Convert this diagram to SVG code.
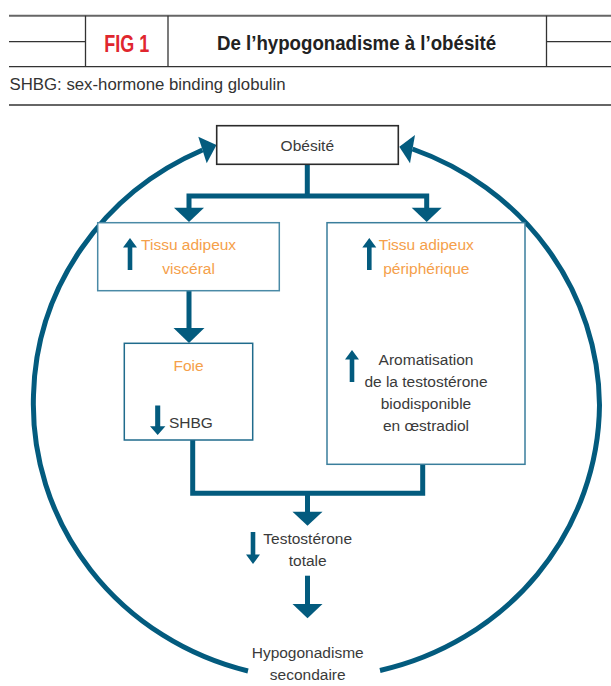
<svg xmlns="http://www.w3.org/2000/svg" xmlns:xlink="http://www.w3.org/1999/xlink" width="611" height="686" viewBox="0 0 611 686">
<style>
.hl{stroke:#333;stroke-width:1.3;fill:none}
.txt{font-family:"Liberation Sans",Arial,sans-serif;font-size:15.5px;fill:#3a3a3a}
.or{fill:#f5a04a}
.mid{text-anchor:middle}
.conn{stroke:#035b7e;stroke-width:5;fill:none;stroke-linejoin:miter}
.head{fill:#035b7e}
.box{fill:#fff;stroke-width:1.5}
</style>
<defs>
<path id="up" d="M0 0 L7 9.5 L2.3 9.5 L2.3 32 L-2.3 32 L-2.3 9.5 L-7 9.5 Z" fill="#035b7e"/>
</defs>
<g id="header">
<line x1="9" y1="15.7" x2="611" y2="15.7" stroke="#666" stroke-width="2"/>
<line class="hl" x1="9" y1="66.7" x2="611" y2="66.7"/>
<line class="hl" x1="9" y1="41.7" x2="85.5" y2="41.7"/>
<line class="hl" x1="546.5" y1="41.7" x2="611" y2="41.7"/>
<line class="hl" x1="85.5" y1="15.7" x2="85.5" y2="66.7"/>
<line class="hl" x1="168" y1="15.7" x2="168" y2="66.7"/>
<line class="hl" x1="546.5" y1="15.7" x2="546.5" y2="66.7"/>
<text transform="translate(126.7,52.3) scale(0.75,1)" text-anchor="middle" font-family="Liberation Sans,Arial,sans-serif" font-weight="bold" font-size="24" fill="#e0262e">FIG 1</text>
<text transform="translate(356.5,50) scale(0.89,1)" text-anchor="middle" font-family="Liberation Sans,Arial,sans-serif" font-weight="bold" font-size="21" fill="#222">De l’hypogonadisme à l’obésité</text>
<text x="9.5" y="90" font-family="Liberation Sans,Arial,sans-serif" font-size="16.8" fill="#333">SHBG: sex-hormone binding globulin</text>
<line class="hl" x1="9" y1="105" x2="611" y2="105"/>
</g>
<g id="connectors">
<path class="conn" d="M248 671 A284 275 0 0 1 33.5 395 A284 275 0 0 1 202.5 150"/>
<polygon class="head" points="216.5,145 198.3,136.7 206.7,163.3"/>
<path class="conn" d="M380 670.5 A284 275 0 0 0 599.5 405 A284 275 0 0 0 412.5 149"/>
<polygon class="head" points="399.3,146.7 415,135 410,163.3"/>
<path class="conn" d="M307.3 164 V196"/>
<path class="conn" d="M189 209 V196 H426.7 V209"/>
<polygon class="head" points="174,207.7 204,207.7 189,222"/>
<polygon class="head" points="411.7,207.7 441.7,207.7 426.7,222"/>
<path class="conn" d="M189 291 V329"/>
<polygon class="head" points="173.5,328 204.5,328 189,343"/>
<path class="conn" d="M192.7 440 V493.3 H422.7 V464"/>
<path class="conn" d="M307.5 493.3 V513"/>
<polygon class="head" points="292.5,511.7 322.5,511.7 307.5,525.7"/>
<path class="conn" d="M307.5 575.7 V605"/>
<polygon class="head" points="292.5,604 322.5,604 307.5,618.3"/>
</g>
<g id="obesite">
<rect x="216.7" y="125.7" width="181.6" height="38.6" fill="#fff" stroke="#2b2b2b" stroke-width="1.6"/>
<text class="txt mid" x="307.3" y="151">Obésité</text>
</g>
<g id="tissu-visceral">
<rect class="box" x="97.7" y="222.7" width="181.6" height="68" stroke="#4a8aa6"/>
<use xlink:href="#up" href="#up" x="130" y="238"/>
<text class="txt or mid" x="188.6" y="249.5">Tissu adipeux</text>
<text class="txt or mid" x="188.6" y="273.5">viscéral</text>
</g>
<g id="foie">
<rect class="box" x="124.3" y="343.3" width="128.4" height="96.7" stroke="#1f6b8c"/>
<text class="txt or mid" x="188.5" y="370.5">Foie</text>
<use xlink:href="#up" href="#up" transform="translate(157.7,435) rotate(180) scale(1.1,0.92)"/>
<text class="txt" x="169" y="428">SHBG</text>
</g>
<g id="tissu-peripherique">
<rect class="box" x="327" y="222.7" width="198" height="241.6" stroke="#3a7e9c"/>
<use xlink:href="#up" href="#up" x="369.3" y="238"/>
<text class="txt or mid" x="426.3" y="249.5">Tissu adipeux</text>
<text class="txt or mid" x="426.3" y="273.5">périphérique</text>
<use xlink:href="#up" href="#up" x="352" y="350"/>
<text class="txt mid" x="426" y="365">Aromatisation</text>
<text class="txt mid" x="426" y="387">de la testostérone</text>
<text class="txt mid" x="426" y="409">biodisponible</text>
<text class="txt mid" x="426" y="431">en œstradiol</text>
</g>
<g id="testosterone">
<use xlink:href="#up" href="#up" transform="translate(253,564) rotate(180)"/>
<text class="txt mid" x="307.7" y="544">Testostérone</text>
<text class="txt mid" x="307.7" y="566">totale</text>
</g>
<g id="hypogonadisme">
<text class="txt mid" x="307.7" y="657.7">Hypogonadisme</text>
<text class="txt mid" x="307.7" y="679.5">secondaire</text>
</g>
</svg>
